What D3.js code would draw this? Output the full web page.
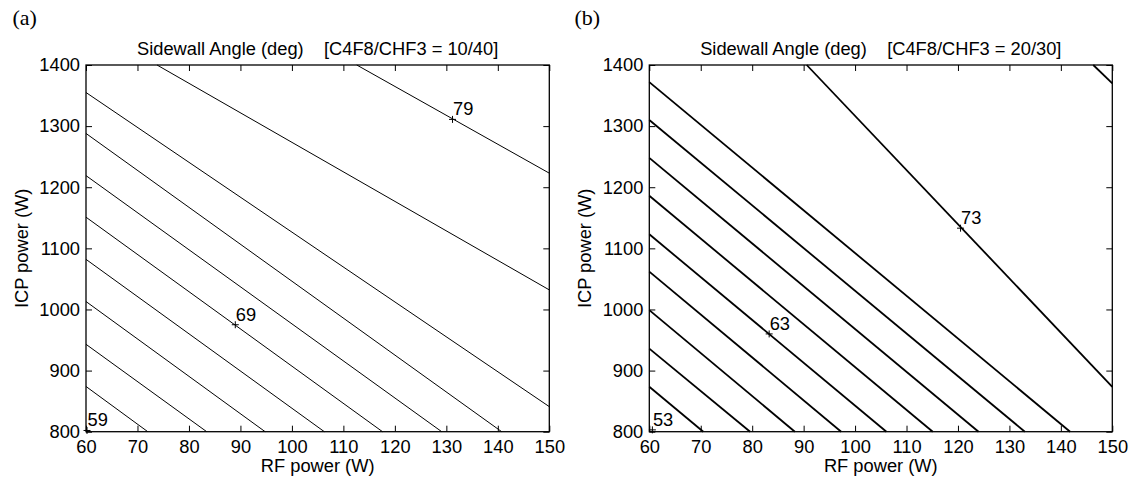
<!DOCTYPE html>
<html>
<head>
<meta charset="utf-8">
<script src="https://cdn.jsdelivr.net/npm/d3@7"></script>
<style>
  html, body { margin: 0; padding: 0; background: #fff; }
  svg { display: block; }
</style>
</head>
<body>
<svg id="chart" width="1135" height="487"></svg>
<script>
// Axis ranges and ticks
const rfDomain = [60, 150];
const icpDomain = [800, 1400];
const rfTicks = [60, 70, 80, 90, 100, 110, 120, 130, 140, 150];
const icpTicks = [800, 900, 1000, 1100, 1200, 1300, 1400];

// Panel (a): C4F8/CHF3 = 10/40 — contour levels with their end points (RF W, ICP W)
const levelsA   = [61, 63, 65, 67, 69, 71, 73, 75, 77, 79];
const startRfA  = [60, 60, 60, 60, 60, 60, 60, 60, 73.8, 112.6];
const startIcpA = [874, 943, 1013, 1082, 1151, 1219, 1288, 1355, 1400, 1400];
const endRfA    = [72.0, 83.45, 94.8, 106.3, 117.6, 129.1, 140.75, 150, 150, 150];
const endIcpA   = [800, 800, 800, 800, 800, 800, 800, 841, 1032, 1223];
// contour labels (value, RF, ICP)
const labelValA = [59, 69, 79];
const labelRfA  = [60.2, 89, 131.2];
const labelIcpA = [802, 975, 1311];

// Panel (b): C4F8/CHF3 = 20/30
const levelsB   = [55, 57, 59, 61, 63, 65, 67, 69, 71, 73, 75];
const startRfB  = [60, 60, 60, 60, 60, 60, 60, 60, 60, 90.6, 146.3];
const startIcpB = [873.5, 936, 999, 1062, 1123, 1186, 1248, 1310, 1372, 1400, 1400];
const endRfB    = [70.5, 79.6, 88.3, 97.3, 106.1, 115.1, 124.0, 133.0, 141.8, 150, 150];
const endIcpB   = [800, 800, 800, 800, 800, 800, 800, 800, 800, 873.5, 1370];
const labelValB = [53, 63, 73];
const labelRfB  = [60.6, 83.3, 120.5];
const labelIcpB = [803, 960, 1133];

const titles = ["Sidewall Angle (deg)    [C4F8/CHF3 = 10/40]",
                "Sidewall Angle (deg)    [C4F8/CHF3 = 20/30]"];
const panelTags = ["(a)", "(b)"];

const svg = d3.select("#chart");
const FS = 18.3;
const SANS = "'Liberation Sans', Arial, Helvetica, sans-serif";
const SERIF = "'Liberation Serif', 'DejaVu Serif', serif";

function drawPanel(cfg) {
  const { left, right, top, bottom } = cfg;
  const x = d3.scaleLinear().domain(rfDomain).range([left, right]);
  const y = d3.scaleLinear().domain(icpDomain).range([bottom, top]);
  const g = svg.append("g").style("font-family", SANS);

  // contour lines
  const segs = cfg.levels.map((lv, i) => ({
    level: lv,
    p0: [cfg.startRf[i], cfg.startIcp[i]],
    p1: [cfg.endRf[i], cfg.endIcp[i]]
  }));
  const line = d3.line().x(d => x(d[0])).y(d => y(d[1]));
  g.selectAll("path.contour").data(segs).join("path")
    .attr("class", "contour")
    .attr("d", d => line([d.p0, d.p1]))
    .attr("fill", "none")
    .attr("stroke", "#000")
    .attr("stroke-width", cfg.lineWidth);

  // axes with inward ticks on all four sides
  const fmt = d3.format("d");
  const axB = d3.axisBottom(x).tickValues(rfTicks).tickFormat(fmt).tickSizeInner(-6).tickSizeOuter(0).tickPadding(8);
  const axL = d3.axisLeft(y).tickValues(icpTicks).tickFormat(fmt).tickSizeInner(-6).tickSizeOuter(0).tickPadding(6);
  const axT = d3.axisTop(x).tickValues(rfTicks).tickSizeInner(-6).tickSizeOuter(0).tickFormat("");
  const axR = d3.axisRight(y).tickValues(icpTicks).tickSizeInner(-6).tickSizeOuter(0).tickFormat("");

  const styleAxis = sel => {
    sel.attr("font-family", null).attr("font-size", null);
    sel.select(".domain").remove();
    sel.selectAll("line").attr("stroke", "#000").attr("stroke-width", 1);
    sel.selectAll("text").style("font-size", FS + "px").style("font-family", SANS).attr("fill", "#000");
  };
  g.append("g").attr("transform", `translate(0,${bottom})`).call(axB).call(styleAxis);
  g.append("g").attr("transform", `translate(${left},0)`).call(axL).call(styleAxis);
  g.append("g").attr("transform", `translate(0,${top})`).call(axT).call(styleAxis);
  g.append("g").attr("transform", `translate(${right},0)`).call(axR).call(styleAxis);

  g.append("rect")
    .attr("x", left).attr("y", top)
    .attr("width", right - left).attr("height", bottom - top)
    .attr("fill", "none").attr("stroke", "#000").attr("stroke-width", 1.3);

  // contour labels with "+" markers
  const labs = cfg.labelVal.map((v, i) => ({ v, rf: cfg.labelRf[i], icp: cfg.labelIcp[i] }));
  const lg = g.selectAll("g.clabel").data(labs).join("g").attr("class", "clabel")
    .attr("transform", d => `translate(${x(d.rf)},${y(d.icp)})`);
  lg.append("path").attr("d", "M-3.5,0H3.5M0,-3.5V3.5")
    .attr("stroke", "#000").attr("stroke-width", 1).attr("fill", "none");
  lg.append("text").attr("x", 0.5).attr("y", -4)
    .style("font-size", FS + "px").text(d => d.v);

  // title
  g.append("text")
    .attr("x", (left + right) / 2).attr("y", top - 10.5)
    .attr("text-anchor", "middle").style("font-size", FS + "px")
    .style("white-space", "pre")
    .text(cfg.title);

  // axis labels
  g.append("text")
    .attr("x", (left + right) / 2).attr("y", 472)
    .attr("text-anchor", "middle").style("font-size", FS + "px")
    .text("RF power (W)");
  g.append("text")
    .attr("transform", `translate(${left - 58},${(top + bottom) / 2}) rotate(-90)`)
    .attr("text-anchor", "middle").style("font-size", FS + "px")
    .text("ICP power (W)");

  // panel tag
  g.append("text")
    .attr("x", cfg.tagX).attr("y", 25)
    .style("font-family", SERIF)
    .style("font-size", "22px")
    .text(cfg.tag);
}

drawPanel({
  left: 86, right: 549.3, top: 65, bottom: 431.7,
  levels: levelsA, startRf: startRfA, startIcp: startIcpA, endRf: endRfA, endIcp: endIcpA,
  labelVal: labelValA, labelRf: labelRfA, labelIcp: labelIcpA,
  lineWidth: 1, title: titles[0], tag: panelTags[0], tagX: 12.5
});
drawPanel({
  left: 649.3, right: 1112.3, top: 65, bottom: 431.7,
  levels: levelsB, startRf: startRfB, startIcp: startIcpB, endRf: endRfB, endIcp: endIcpB,
  labelVal: labelValB, labelRf: labelRfB, labelIcp: labelIcpB,
  lineWidth: 1.8, title: titles[1], tag: panelTags[1], tagX: 574.5
});
</script>
</body>
</html>
